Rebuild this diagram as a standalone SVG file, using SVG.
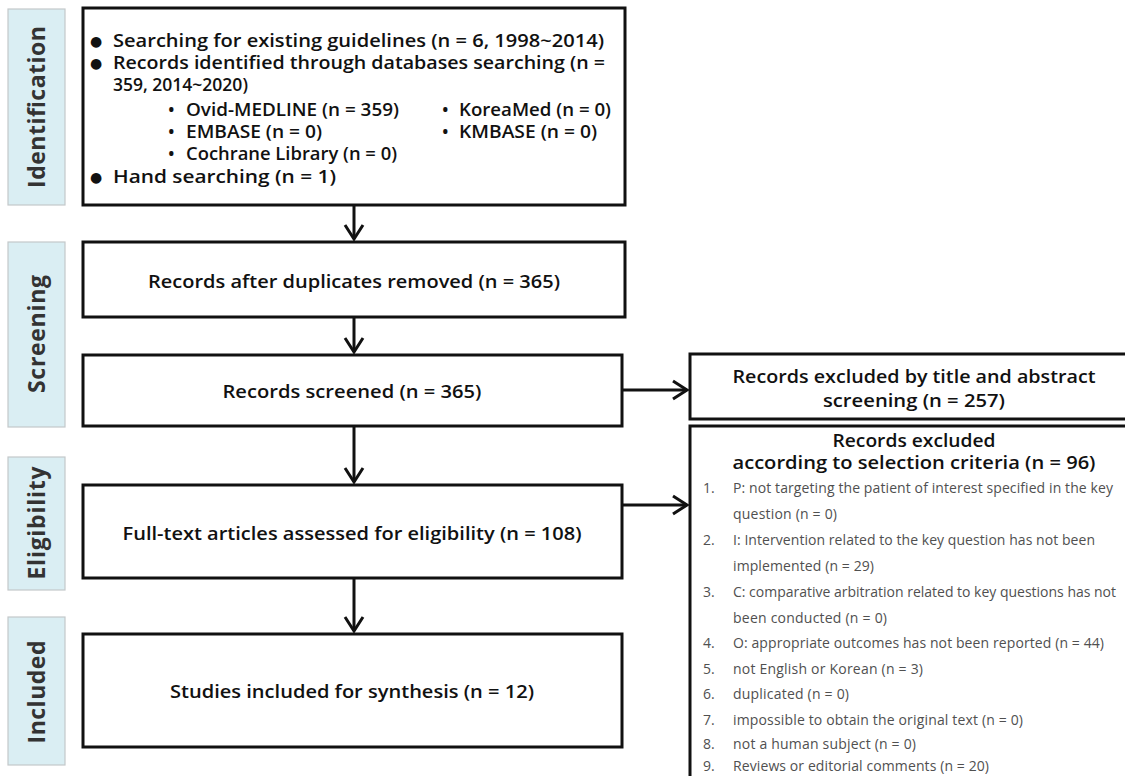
<svg xmlns="http://www.w3.org/2000/svg" width="1125" height="776" viewBox="0 0 1125 776">
<style>
.lab{fill:#DAEEF3;stroke:#c4c8ca;stroke-width:1.2}
.labt{font-family:"Open Sans","Noto Sans",sans-serif;font-weight:700;font-size:23px;fill:#333;text-anchor:middle}
.box{fill:#fff;stroke:#111;stroke-width:3}
.t{font-family:"Open Sans","Noto Sans",sans-serif;font-weight:600;font-size:17.5px;fill:#111}
.b{font-family:"DejaVu Sans",sans-serif;font-size:14px;fill:#111}
.c{text-anchor:middle}
.li{font-family:"Open Sans","Noto Sans",sans-serif;font-weight:400;font-size:14px;fill:#505050}
.con{fill:none;stroke:#111;stroke-width:3}
</style>
<defs>
<marker id="ah" markerUnits="userSpaceOnUse" markerWidth="24" markerHeight="24" viewBox="-16 -12 20 24" refX="0" refY="0" orient="auto">
<path d="M-14,-9 L0,0 L-14,9" fill="none" stroke="#111" stroke-width="3"/>
</marker>
</defs>
<rect width="1125" height="776" fill="#fff"/>
<g id="label-identification"><rect class="lab" x="8" y="9" width="57" height="196"/><text class="labt" transform="translate(45,107) rotate(-90)" textLength="162">Identification</text></g>
<g id="label-screening"><rect class="lab" x="8" y="242" width="57" height="185"/><text class="labt" transform="translate(45,334) rotate(-90)" textLength="118">Screening</text></g>
<g id="label-eligibility"><rect class="lab" x="8" y="457" width="57" height="133"/><text class="labt" transform="translate(45,523) rotate(-90)" textLength="113">Eligibility</text></g>
<g id="label-included"><rect class="lab" x="8" y="617" width="57" height="148"/><text class="labt" transform="translate(45,692) rotate(-90)" textLength="103">Included</text></g>

<g id="node-identification">
<rect class="box" x="83" y="8" width="542" height="197"/>
<text class="b" x="90" y="46">●</text><text class="t" x="113" y="47" textLength="491" lengthAdjust="spacingAndGlyphs">Searching for existing guidelines (n = 6, 1998~2014)</text>
<text class="b" x="90" y="68">●</text><text class="t" x="113" y="69" textLength="492" lengthAdjust="spacingAndGlyphs">Records identified through databases searching (n =</text>
<text class="t" x="113" y="91">359, 2014~2020)</text>
<text class="t" x="168" y="116">•</text><text class="t" x="186" y="116" textLength="213" lengthAdjust="spacingAndGlyphs">Ovid-MEDLINE (n = 359)</text>
<text class="t" x="442" y="116">•</text><text class="t" x="459" y="116" textLength="152" lengthAdjust="spacingAndGlyphs">KoreaMed (n = 0)</text>
<text class="t" x="168" y="138">•</text><text class="t" x="186" y="138" textLength="136" lengthAdjust="spacingAndGlyphs">EMBASE (n = 0)</text>
<text class="t" x="442" y="138">•</text><text class="t" x="459" y="138" textLength="138" lengthAdjust="spacingAndGlyphs">KMBASE (n = 0)</text>
<text class="t" x="168" y="160">•</text><text class="t" x="186" y="160" textLength="211" lengthAdjust="spacingAndGlyphs">Cochrane Library (n = 0)</text>
<text class="b" x="90" y="182">●</text><text class="t" x="113" y="183" textLength="223" lengthAdjust="spacingAndGlyphs">Hand searching  (n = 1)</text>
</g>
<g id="node-duplicates"><rect class="box" x="83" y="242" width="542" height="75"/><text class="t c" x="354" y="288" textLength="412" lengthAdjust="spacingAndGlyphs">Records after duplicates removed (n = 365)</text></g>
<g id="node-screened"><rect class="box" x="83" y="355" width="539" height="71"/><text class="t c" x="352" y="398" textLength="259" lengthAdjust="spacingAndGlyphs">Records screened (n = 365)</text></g>
<g id="node-fulltext"><rect class="box" x="83" y="485" width="539" height="93"/><text class="t c" x="352" y="540" textLength="459" lengthAdjust="spacingAndGlyphs">Full-text articles assessed for eligibility (n = 108)</text></g>
<g id="node-included"><rect class="box" x="83" y="634" width="539" height="113"/><text class="t c" x="352" y="698" textLength="364" lengthAdjust="spacingAndGlyphs">Studies included for synthesis (n = 12)</text></g>

<g id="node-excluded-title">
<rect class="box" x="690" y="354" width="450" height="65"/>
<text class="t c" x="914" y="383" textLength="363" lengthAdjust="spacingAndGlyphs">Records excluded by title and abstract</text>
<text class="t c" x="914" y="407" textLength="182" lengthAdjust="spacingAndGlyphs">screening (n = 257)</text>
</g>
<g id="node-excluded-criteria">
<rect class="box" x="690" y="426" width="450" height="380"/>
<text class="t c" x="914" y="447" textLength="163" lengthAdjust="spacingAndGlyphs">Records excluded</text>
<text class="t c" x="914" y="469" textLength="363" lengthAdjust="spacingAndGlyphs">according to selection criteria (n = 96)</text>
<text class="li" x="703" y="493">1.</text><text class="li" x="733" y="493" textLength="380">P: not targeting the patient of interest specified in the key</text>
<text class="li" x="733" y="519" textLength="104">question (n = 0)</text>
<text class="li" x="703" y="545">2.</text><text class="li" x="733" y="545" textLength="362">I: Intervention related to the key question has not been</text>
<text class="li" x="733" y="571" textLength="141">implemented (n = 29)</text>
<text class="li" x="703" y="597">3.</text><text class="li" x="733" y="597" textLength="383">C: comparative arbitration related to key questions has not</text>
<text class="li" x="733" y="623" textLength="154">been conducted (n = 0)</text>
<text class="li" x="703" y="648">4.</text><text class="li" x="733" y="648" textLength="371">O: appropriate outcomes has not been reported (n = 44)</text>
<text class="li" x="703" y="674">5.</text><text class="li" x="733" y="674" textLength="190">not English or Korean (n = 3)</text>
<text class="li" x="703" y="699">6.</text><text class="li" x="733" y="699" textLength="116">duplicated (n = 0)</text>
<text class="li" x="703" y="725">7.</text><text class="li" x="733" y="725" textLength="290">impossible to obtain the original text (n = 0)</text>
<text class="li" x="703" y="749">8.</text><text class="li" x="733" y="749" textLength="183">not a human subject (n = 0)</text>
<text class="li" x="703" y="771">9.</text><text class="li" x="733" y="771" textLength="256">Reviews or editorial comments (n = 20)</text>
</g>

<g id="connectors">
<line class="con" x1="354" y1="206" x2="354" y2="239" marker-end="url(#ah)"/>
<line class="con" x1="354" y1="318" x2="354" y2="352" marker-end="url(#ah)"/>
<line class="con" x1="354" y1="427" x2="354" y2="482" marker-end="url(#ah)"/>
<line class="con" x1="354" y1="579" x2="354" y2="631" marker-end="url(#ah)"/>
<line class="con" x1="623" y1="390" x2="687" y2="390" marker-end="url(#ah)"/>
<line class="con" x1="623" y1="505" x2="687" y2="505" marker-end="url(#ah)"/>
</g>
</svg>
